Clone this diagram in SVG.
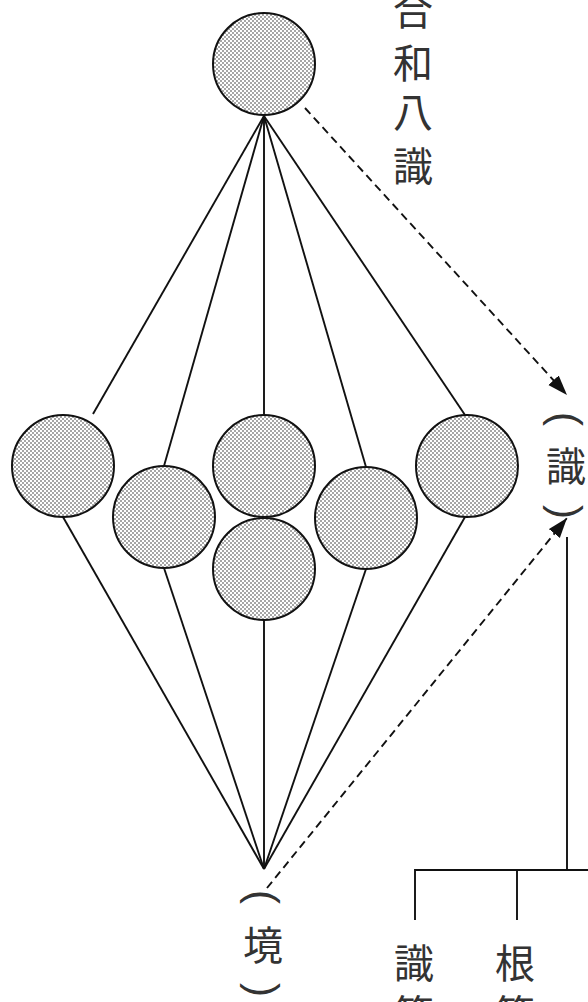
<svg xmlns="http://www.w3.org/2000/svg" width="588" height="1002" viewBox="0 0 588 1002">
<style>
.n{fill:url(#dots);stroke:#111;stroke-width:2}
.l{stroke:#111;stroke-width:1.9;fill:none}
.d{stroke:#111;stroke-width:1.9;fill:none;stroke-dasharray:8 5;marker-end:url(#ah)}
.t{font-family:"Noto Sans CJK JP","Noto Sans CJK SC",sans-serif;font-size:40px;fill:#333;text-anchor:middle;dominant-baseline:central}
.p{font-family:"Liberation Sans",sans-serif;font-size:42px;fill:#333;text-anchor:middle;dominant-baseline:central}
</style>
<defs>
<pattern id="dots" width="4" height="4" patternUnits="userSpaceOnUse">
<rect width="4" height="4" fill="#fff"/>
<circle cx="1" cy="1" r="0.75" fill="#222"/>
<circle cx="3" cy="3" r="0.75" fill="#222"/>
</pattern>
<marker id="ah" markerUnits="userSpaceOnUse" markerWidth="22" markerHeight="16" refX="20" refY="7" orient="auto" viewBox="0 0 22 16">
<path d="M0,0 L20,7 L0,14 z" fill="#111"/>
</marker>
</defs>
<g id="connectors">
<line class="l" x1="264" y1="116" x2="93" y2="414"/>
<line class="l" x1="264" y1="116" x2="164" y2="466"/>
<line class="l" x1="264" y1="116" x2="264" y2="415"/>
<line class="l" x1="264" y1="116" x2="366" y2="467"/>
<line class="l" x1="264" y1="116" x2="465" y2="415"/>
<line class="l" x1="63" y1="517" x2="264" y2="869"/>
<line class="l" x1="164" y1="568" x2="264" y2="869"/>
<line class="l" x1="264" y1="620" x2="264" y2="869"/>
<line class="l" x1="366" y1="569" x2="264" y2="869"/>
<line class="l" x1="465" y1="517" x2="264" y2="869"/>
<line class="d" x1="305" y1="108" x2="567" y2="395"/>
<line class="d" x1="267" y1="888" x2="567" y2="518"/>
<polyline class="l" points="567,537 567,870"/>
<polyline class="l" points="415,920 415,870 588,870"/>
<line class="l" x1="517" y1="870" x2="517" y2="920"/>
</g>
<g id="node-top"><circle class="n" cx="264" cy="64" r="51"/></g>
<g id="node-1"><circle class="n" cx="63" cy="466" r="51"/></g>
<g id="node-2"><circle class="n" cx="164" cy="517" r="51"/></g>
<g id="node-3"><circle class="n" cx="264" cy="466" r="51"/></g>
<g id="node-4"><circle class="n" cx="264" cy="569" r="51"/></g>
<g id="node-5"><circle class="n" cx="366" cy="518" r="51"/></g>
<g id="node-6"><circle class="n" cx="467" cy="466" r="51"/></g>
<g id="label-hewa">
<text class="t" x="413" y="8">合</text>
<text class="t" x="413" y="61">和</text>
<text class="t" x="413" y="110">八</text>
<text class="t" x="413" y="164">識</text>
</g>
<g id="label-shiki">
<text class="p" transform="translate(566,419) rotate(90)">(</text>
<text class="t" x="566" y="464">識</text>
<text class="p" transform="translate(566,512) rotate(90)">)</text>
</g>
<g id="label-kyo">
<text class="p" transform="translate(263,897) rotate(90)">(</text>
<text class="t" x="263" y="943">境</text>
<text class="p" transform="translate(263,990) rotate(90)">)</text>
</g>
<g id="label-bottom">
<text class="t" x="414" y="961">識</text>
<text class="t" x="414" y="1012">等</text>
<text class="t" x="515" y="961">根</text>
<text class="t" x="515" y="1012">等</text>
</g>
</svg>
